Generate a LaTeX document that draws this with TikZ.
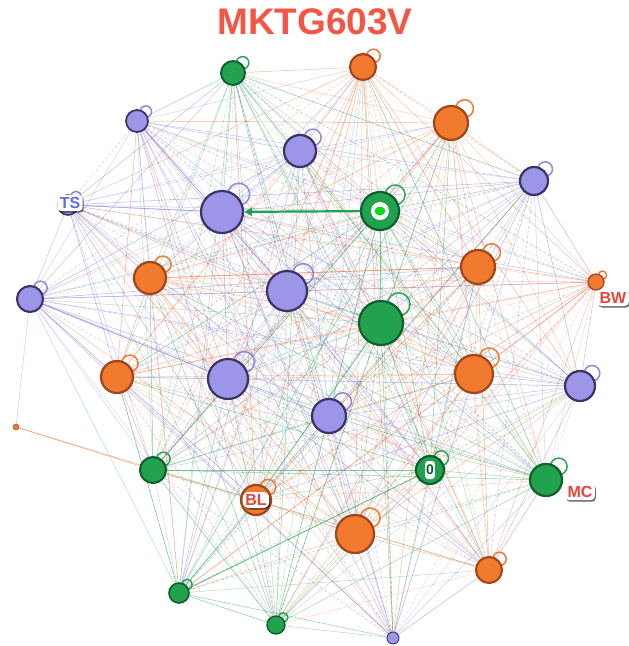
\documentclass[tikz,border=0pt]{standalone}
\usepackage{fontspec}
\setmainfont{Liberation Sans}
\usetikzlibrary{arrows.meta,shadows}
\pgfdeclarelayer{bg}
\pgfsetlayers{bg,main}
\definecolor{pfill}{HTML}{9C95E8}
\definecolor{pdraw}{HTML}{3B3366}
\definecolor{ploop}{HTML}{9088E0}
\definecolor{ofill}{HTML}{F27A2E}
\definecolor{odraw}{HTML}{A0461A}
\definecolor{oloop}{HTML}{EE7A3A}
\definecolor{gfill}{HTML}{22A24F}
\definecolor{gdraw}{HTML}{0E5E2E}
\definecolor{gloop}{HTML}{2AA658}
\definecolor{eP}{HTML}{7F77DD}
\definecolor{eO}{HTML}{F26B2E}
\definecolor{eG}{HTML}{1E9E50}
\definecolor{titlered}{HTML}{F45545}
\definecolor{tsblue}{HTML}{5A6EE8}
\definecolor{lblred}{HTML}{E8463A}
\definecolor{brightgreen}{HTML}{10D81A}
\begin{document}
\begin{tikzpicture}[x=1pt,y=-1pt,
  nd/.style={circle,inner sep=0pt},
  P/.style={nd,fill=pfill,draw=pdraw},
  O/.style={nd,fill=ofill,draw=odraw},
  G/.style={nd,fill=gfill,draw=gdraw},
  lpP/.style={draw=ploop,line width=1.5pt},
  lpO/.style={draw=oloop,line width=1.5pt},
  lpG/.style={draw=gloop,line width=1.5pt},
  edge/.style={line width=0.5pt},
  eds0/.style={dash pattern=on 3pt off 2pt},
  eds1/.style={},
  eds2/.style={},
  eds3/.style={},
  heavy/.style={line width=0.9pt,draw opacity=0.45},
  lbl/.style={fill=white,rounded corners=4pt,inner sep=2.5pt,
    font=\bfseries\fontsize{16}{16}\selectfont,
    drop shadow={shadow xshift=1pt,shadow yshift=-1.5pt,opacity=0.6,fill=black}}
]
\useasboundingbox (0,0) rectangle (629,646);

% title
\node[text=titlered,font=\bfseries\fontsize{37}{37}\selectfont] (title) at (315,22) {MKTG603V};

% nodes: name/x/y/r/type/loop
\foreach \n/\x/\y/\r/\t/\l in {
  1/233/73/12/G/1, 2/363/67/13/O/1, 3/137/121/11/P/1, 4/451/123/17/O/1,
  5/300/151/16/P/1, 6/534/181/14/P/1, 7/68/205/10/P/1, 8/222/212/21/P/1,
  9/380/211/19/G/1, 10/150/278/16/O/1, 11/478/267/17/O/1, 12/287/291/20/P/1,
  13/596/282/8/O/1, 14/30/299/13/P/1, 15/381/323/22/G/1, 16/117/377/16/O/1,
  17/228/379/20/P/1, 18/474/374/19/O/1, 19/580/386/15/P/1, 20/329/416/17/P/1,
  21/153/470/13/G/1, 22/430/470/14/G/1, 23/546/480/16/G/1, 24/256/500/15/O/1,
  25/355/534/19/O/1, 26/489/570/13/O/1, 27/179/593/10/G/1, 28/276/625/9/G/1,
  29/393/638/6/P/0, 30/16/427/3/O/0} {
  \expandafter\xdef\csname nt\n\endcsname{\t}
  \ifnum\l=1
    \draw[lp\t] ({\x+0.8*\r},{\y-0.85*\r}) circle[radius={0.52*\r*1pt}];
  \fi
  \node[\t, minimum size={2*\r*1pt}, line width={min(2.2,0.16*\r)*1pt}] (n\n) at (\x,\y) {};
}

% edges
\begin{pgfonlayer}{bg}
\foreach \i in {1,...,28} {
  \pgfmathtruncatemacro\jstart{\i+1}
  \foreach \j in {\jstart,...,29} {
    \pgfmathtruncatemacro\esel{mod(\i*7+\j*13,5)}
    \pgfmathtruncatemacro\edmod{mod(\i*3+\j*5,4)}
    \pgfmathsetmacro\eop{0.28+0.05*mod(\i*11+\j*17,6)}
    \ifnum\esel<3 \edef\ec{e\csname nt\i\endcsname}\else\edef\ec{e\csname nt\j\endcsname}\fi
    \draw[edge,draw=\ec,draw opacity=\eop,eds\edmod] (n\i) -- (n\j);
  }
}
\draw[edge,draw=eO,draw opacity=0.6] (n30) -- (n21);
\draw[edge,draw=eO,draw opacity=0.5] (n30) -- (n24);
\draw[edge,draw=eP,draw opacity=0.4] (n30) -- (n14);
\draw[heavy,draw=eG] (n9) -- (n15);
\draw[heavy,draw=eG] (n9) -- (n21);
\draw[heavy,draw=eG] (n15) -- (n24);
\draw[heavy,draw=eP] (n7) -- (n8);
\draw[heavy,draw=eP] (n14) -- (n17);
\draw[heavy,draw=eP] (n3) -- (n12);
\draw[heavy,draw=eO] (n10) -- (n11);
\draw[heavy,draw=eG] (n22) -- (n27);
\end{pgfonlayer}

% strong arrow
\draw[line width=2.2pt,draw=gfill,-{Triangle[length=8pt,width=8pt]}] (n9) -- (n8);

% node decorations
\fill[white] (n9) circle[radius=9pt];
\fill[brightgreen] (n9) ellipse[x radius=5.5pt,y radius=4.5pt];
\node[fill=white,rounded corners=3pt,inner sep=1pt,minimum width=9pt,minimum height=18pt,
  text=gdraw,font=\bfseries\fontsize{14}{14}\selectfont] (l0) at (n22) {0};

% labels
\node[lbl,text=tsblue] (lts) at (70,203) {TS};
\node[lbl,text=lblred] (lbw) at (613,298) {BW};
\node[lbl,text=lblred] (lmc) at (580,492) {MC};
\node[lbl,text=lblred,rounded corners=6pt] (lbl) at (256,500) {BL};
\end{tikzpicture}
\end{document}
